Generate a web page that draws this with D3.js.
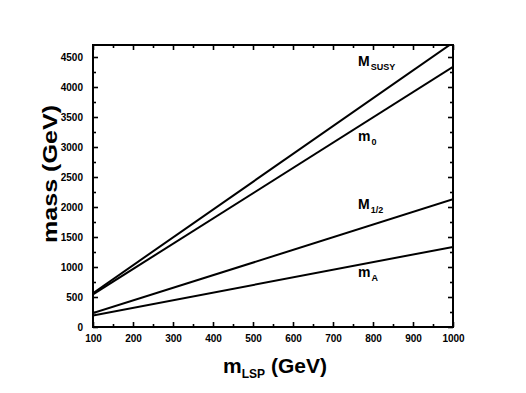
<!DOCTYPE html>
<html>
<head>
<meta charset="utf-8">
<script src="https://cdn.jsdelivr.net/npm/d3@7"></script>
<style>
  body { margin: 0; background: #fff; }
  svg { font-family: "Liberation Sans", Arial, sans-serif; }
</style>
</head>
<body>
<div id="chart"></div>
<script>
// Data: end points of each straight line (x = m_LSP in GeV)
const mLSP = [100, 1000];
const mSusy = [565, 4740];
const m0 = [545, 4336];
const mHalf = [231, 2128];
const mA = [192, 1335];

const xTicks = [100, 200, 300, 400, 500, 600, 700, 800, 900, 1000];
const yTicks = [0, 500, 1000, 1500, 2000, 2500, 3000, 3500, 4000, 4500];

const width = 526;
const height = 393;
const marginTop = 45;
const marginRight = 73;
const marginBottom = 66;
const marginLeft = 93;

const svg = d3.select("#chart").append("svg")
    .attr("width", width)
    .attr("height", height);

const x = d3.scaleLinear()
    .domain([100, 1000])
    .range([marginLeft, width - marginRight]);

const y = d3.scaleLinear()
    .domain([0, 4700])
    .range([height - marginBottom, marginTop]);

// clip lines to the frame
svg.append("clipPath").attr("id", "clip")
  .append("rect")
    .attr("x", marginLeft).attr("y", marginTop)
    .attr("width", x.range()[1] - marginLeft)
    .attr("height", y.range()[0] - marginTop);

// minor ticks (every 50 on x, every 250 on y)
const xMinor = d3.range(150, 1000, 100);
const yMinor = d3.range(250, 4700, 500);

function styleAxis(g) {
    g.select(".domain").remove();
    g.selectAll("line").attr("stroke", "#000").attr("stroke-width", 1.6);
    g.selectAll("text")
        .attr("font-size", 10)
        .attr("font-weight", "bold")
        .attr("fill", "#000");
}

// bottom
svg.append("g")
    .attr("transform", `translate(0,${y(0)})`)
    .call(d3.axisBottom(x).tickValues(xTicks).tickSize(-5).tickPadding(8).tickFormat(d3.format("d")))
    .call(styleAxis);
svg.append("g")
    .attr("transform", `translate(0,${y(0)})`)
    .call(d3.axisBottom(x).tickValues(xMinor).tickSize(-3).tickFormat(""))
    .call(styleAxis);
// top
svg.append("g")
    .attr("transform", `translate(0,${marginTop})`)
    .call(d3.axisTop(x).tickValues(xTicks).tickSize(-5).tickFormat(""))
    .call(styleAxis);
svg.append("g")
    .attr("transform", `translate(0,${marginTop})`)
    .call(d3.axisTop(x).tickValues(xMinor).tickSize(-3).tickFormat(""))
    .call(styleAxis);
// left
svg.append("g")
    .attr("transform", `translate(${marginLeft},0)`)
    .call(d3.axisLeft(y).tickValues(yTicks).tickSize(-5).tickPadding(10).tickFormat(d3.format("d")))
    .call(styleAxis);
svg.append("g")
    .attr("transform", `translate(${marginLeft},0)`)
    .call(d3.axisLeft(y).tickValues(yMinor).tickSize(-3).tickFormat(""))
    .call(styleAxis);
// right
svg.append("g")
    .attr("transform", `translate(${x(1000)},0)`)
    .call(d3.axisRight(y).tickValues(yTicks).tickSize(-5).tickFormat(""))
    .call(styleAxis);
svg.append("g")
    .attr("transform", `translate(${x(1000)},0)`)
    .call(d3.axisRight(y).tickValues(yMinor).tickSize(-3).tickFormat(""))
    .call(styleAxis);

// frame
svg.append("rect")
    .attr("x", marginLeft).attr("y", marginTop)
    .attr("width", x(1000) - marginLeft)
    .attr("height", y(0) - marginTop)
    .attr("fill", "none")
    .attr("stroke", "#000")
    .attr("stroke-width", 2);

// lines
const line = d3.line()
    .x((d, i) => x(mLSP[i]))
    .y(d => y(d));

for (const series of [mSusy, m0, mHalf, mA]) {
    svg.append("path")
        .attr("clip-path", "url(#clip)")
        .attr("fill", "none")
        .attr("stroke", "#000")
        .attr("stroke-width", 2)
        .attr("d", line(series));
}

// line labels
const labels = [
    { main: "M", sub: "SUSY", x: 358, y: 66 },
    { main: "m", sub: "0", x: 358, y: 141 },
    { main: "M", sub: "1/2", x: 358, y: 209 },
    { main: "m", sub: "A", x: 358, y: 277 }
];
for (const l of labels) {
    const t = svg.append("text")
        .attr("x", l.x).attr("y", l.y)
        .attr("font-weight", "bold")
        .attr("font-size", 14);
    t.append("tspan").text(l.main);
    t.append("tspan").attr("dy", 4).attr("dx", 1).attr("font-size", 9).text(l.sub);
}

// axis titles
const xt = svg.append("text")
    .attr("x", 275).attr("y", 373)
    .attr("text-anchor", "middle")
    .attr("font-weight", "bold")
    .attr("font-size", 21);
xt.append("tspan").text("m");
xt.append("tspan").attr("dy", 5).attr("font-size", 12).text("LSP");
xt.append("tspan").attr("dy", -5).text(" (GeV)");

svg.append("text")
    .attr("transform", `translate(57,174) rotate(-90)`)
    .attr("text-anchor", "middle")
    .attr("font-weight", "bold")
    .attr("font-size", 20)
    .attr("textLength", 138)
    .attr("lengthAdjust", "spacingAndGlyphs")
    .text("mass (GeV)");
</script>
</body>
</html>
